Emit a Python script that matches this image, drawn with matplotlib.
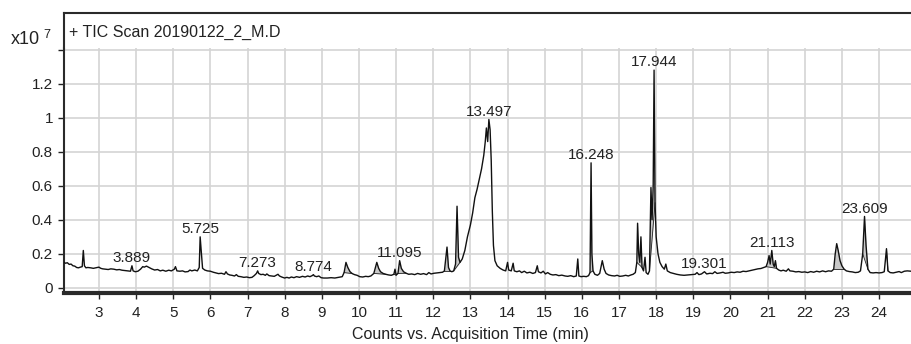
import numpy as np
import matplotlib.pyplot as plt

plt.rcParams['font.family'] = ['Liberation Sans', 'DejaVu Sans']

# TIC trace, counts in units of 1e7
rt = [2.06, 2.10, 2.15, 2.20, 2.25, 2.30, 2.35, 2.40, 2.45, 2.50, 2.55, 2.58, 2.61, 2.65, 2.70, 2.78, 2.85, 2.92, 3.00, 3.05,
      3.10, 3.18, 3.25, 3.32, 3.40, 3.48, 3.55, 3.62, 3.70, 3.78, 3.85, 3.889, 3.92, 3.98, 4.05, 4.12, 4.18, 4.22, 4.28, 4.35,
      4.42, 4.50, 4.58, 4.65, 4.72, 4.80, 4.88, 4.95, 5.03, 5.06, 5.10, 5.18, 5.25, 5.32, 5.40, 5.45, 5.50, 5.58, 5.65, 5.70,
      5.725, 5.76, 5.79, 5.85, 5.92, 6.00, 6.08, 6.15, 6.22, 6.30, 6.38, 6.42, 6.46, 6.52, 6.58, 6.65, 6.70, 6.75, 6.82, 6.90,
      6.98, 7.05, 7.12, 7.18, 7.24, 7.273, 7.30, 7.36, 7.42, 7.48, 7.52, 7.58, 7.65, 7.72, 7.78, 7.82, 7.86, 7.92, 8.00, 8.06,
      8.12, 8.18, 8.25, 8.32, 8.40, 8.48, 8.55, 8.62, 8.68, 8.74, 8.774, 8.80, 8.86, 8.92, 8.98, 9.05, 9.15, 9.25, 9.35, 9.45,
      9.55, 9.60, 9.65, 9.70, 9.76, 9.82, 9.88, 9.95, 10.02, 10.10, 10.18, 10.25, 10.32, 10.40, 10.48, 10.53, 10.58, 10.65, 10.72, 10.80,
      10.87, 10.94, 10.97, 11.00, 11.05, 11.095, 11.14, 11.20, 11.27, 11.34, 11.42, 11.50, 11.58, 11.66, 11.74, 11.82, 11.88, 11.94, 12.02, 12.10,
      12.18, 12.25, 12.30, 12.37, 12.41, 12.45, 12.50, 12.55, 12.60, 12.64, 12.68, 12.72, 12.78, 12.85, 12.92, 13.00, 13.06, 13.12, 13.18, 13.24,
      13.30, 13.36, 13.40, 13.43, 13.465, 13.497, 13.53, 13.56, 13.59, 13.62, 13.66, 13.72, 13.80, 13.88, 13.95, 14.00, 14.03, 14.10, 14.15, 14.18,
      14.25, 14.32, 14.38, 14.45, 14.52, 14.60, 14.68, 14.75, 14.80, 14.83, 14.90, 14.96, 15.02, 15.08, 15.15, 15.22, 15.30, 15.38, 15.46, 15.55,
      15.62, 15.70, 15.78, 15.85, 15.89, 15.92, 15.98, 16.05, 16.12, 16.18, 16.22, 16.248, 16.27, 16.30, 16.35, 16.42, 16.48, 16.55, 16.60, 16.65,
      16.72, 16.80, 16.88, 16.95, 17.02, 17.10, 17.18, 17.25, 17.32, 17.38, 17.44, 17.48, 17.50, 17.53, 17.56, 17.59, 17.62, 17.66, 17.70, 17.73,
      17.78, 17.82, 17.86, 17.89, 17.92, 17.944, 17.97, 18.00, 18.05, 18.10, 18.16, 18.22, 18.26, 18.30, 18.38, 18.46, 18.55, 18.65, 18.75, 18.85,
      18.95, 19.05, 19.10, 19.15, 19.22, 19.301, 19.36, 19.45, 19.52, 19.58, 19.64, 19.72, 19.80, 19.86, 19.94, 20.02, 20.10, 20.18, 20.26, 20.34,
      20.42, 20.50, 20.58, 20.66, 20.74, 20.82, 20.90, 20.96, 21.00, 21.04, 21.07, 21.113, 21.15, 21.18, 21.21, 21.24, 21.30, 21.36, 21.42, 21.50,
      21.56, 21.60, 21.68, 21.76, 21.84, 21.92, 22.00, 22.08, 22.16, 22.24, 22.32, 22.40, 22.48, 22.56, 22.64, 22.72, 22.78, 22.82, 22.86, 22.90,
      22.95, 23.00, 23.06, 23.12, 23.20, 23.28, 23.36, 23.44, 23.50, 23.56, 23.609, 23.65, 23.70, 23.76, 23.84, 23.92, 24.00, 24.08, 24.14, 24.20,
      24.24, 24.30, 24.38, 24.46, 24.54, 24.60, 24.68, 24.76, 24.86]
counts = [0.150, 0.145, 0.148, 0.138, 0.140, 0.130, 0.128, 0.120, 0.118, 0.122, 0.125, 0.220, 0.130, 0.118, 0.120, 0.118, 0.115, 0.118, 0.122, 0.115,
          0.112, 0.110, 0.108, 0.112, 0.110, 0.106, 0.108, 0.104, 0.102, 0.100, 0.098, 0.130, 0.100, 0.095, 0.098, 0.110, 0.125, 0.122, 0.128, 0.120,
          0.112, 0.105, 0.108, 0.100, 0.104, 0.098, 0.104, 0.100, 0.110, 0.125, 0.100, 0.098, 0.100, 0.094, 0.096, 0.105, 0.100, 0.105, 0.100, 0.120,
          0.300, 0.200, 0.115, 0.105, 0.100, 0.098, 0.092, 0.088, 0.084, 0.086, 0.080, 0.095, 0.082, 0.076, 0.074, 0.070, 0.078, 0.068, 0.066, 0.062,
          0.064, 0.060, 0.062, 0.072, 0.085, 0.100, 0.085, 0.078, 0.080, 0.074, 0.082, 0.072, 0.070, 0.068, 0.075, 0.080, 0.070, 0.064, 0.058, 0.062,
          0.058, 0.064, 0.060, 0.066, 0.062, 0.068, 0.064, 0.070, 0.066, 0.072, 0.078, 0.070, 0.066, 0.070, 0.060, 0.058, 0.058, 0.060, 0.058, 0.062,
          0.066, 0.090, 0.150, 0.120, 0.095, 0.084, 0.078, 0.074, 0.066, 0.064, 0.068, 0.066, 0.070, 0.085, 0.150, 0.115, 0.095, 0.085, 0.080, 0.076,
          0.074, 0.080, 0.110, 0.075, 0.085, 0.160, 0.115, 0.095, 0.086, 0.080, 0.082, 0.078, 0.085, 0.080, 0.084, 0.078, 0.090, 0.082, 0.086, 0.088,
          0.090, 0.092, 0.100, 0.240, 0.120, 0.100, 0.095, 0.100, 0.140, 0.480, 0.180, 0.150, 0.170, 0.220, 0.300, 0.370, 0.440, 0.530, 0.580, 0.640,
          0.700, 0.780, 0.860, 0.940, 0.860, 0.990, 0.930, 0.750, 0.450, 0.250, 0.160, 0.130, 0.115, 0.105, 0.100, 0.150, 0.105, 0.100, 0.145, 0.100,
          0.095, 0.100, 0.090, 0.098, 0.088, 0.092, 0.085, 0.090, 0.130, 0.095, 0.088, 0.098, 0.082, 0.090, 0.080, 0.076, 0.078, 0.072, 0.075, 0.070,
          0.068, 0.072, 0.066, 0.070, 0.170, 0.070, 0.066, 0.068, 0.066, 0.072, 0.090, 0.735, 0.200, 0.100, 0.080, 0.074, 0.085, 0.160, 0.110, 0.085,
          0.076, 0.072, 0.070, 0.074, 0.068, 0.070, 0.074, 0.070, 0.076, 0.080, 0.090, 0.150, 0.380, 0.200, 0.150, 0.300, 0.120, 0.100, 0.180, 0.090,
          0.080, 0.100, 0.590, 0.400, 0.600, 1.280, 0.500, 0.300, 0.200, 0.150, 0.125, 0.110, 0.140, 0.100, 0.090, 0.085, 0.080, 0.076, 0.074, 0.076,
          0.078, 0.080, 0.090, 0.078, 0.082, 0.095, 0.082, 0.086, 0.084, 0.095, 0.085, 0.088, 0.092, 0.086, 0.088, 0.092, 0.090, 0.094, 0.092, 0.098,
          0.096, 0.100, 0.104, 0.108, 0.112, 0.114, 0.120, 0.125, 0.150, 0.190, 0.140, 0.220, 0.140, 0.125, 0.160, 0.115, 0.105, 0.100, 0.104, 0.098,
          0.112, 0.100, 0.098, 0.094, 0.096, 0.092, 0.094, 0.090, 0.096, 0.092, 0.098, 0.094, 0.100, 0.095, 0.100, 0.098, 0.110, 0.200, 0.260, 0.220,
          0.160, 0.130, 0.110, 0.100, 0.096, 0.094, 0.090, 0.092, 0.100, 0.200, 0.420, 0.250, 0.110, 0.090, 0.088, 0.090, 0.088, 0.090, 0.095, 0.230,
          0.100, 0.090, 0.088, 0.092, 0.096, 0.090, 0.098, 0.100, 0.098]

# integrated peaks (start, end) shaded grey
peak_windows = [(9.58, 9.85), (10.38, 10.72), (10.94, 11.00), (11.03, 11.30), (12.30, 12.45),
                (12.55, 12.72), (16.22, 16.30), (17.48, 17.62), (17.82, 17.97),
                (20.96, 21.24), (22.78, 23.06), (23.52, 23.72), (24.16, 24.26)]

# labelled retention times
peak_labels = [3.889, 5.725, 7.273, 8.774, 11.095, 13.497, 16.248, 17.944, 19.301, 21.113, 23.609]

x_ticks = list(range(3, 25))
y_ticks = [0, 0.2, 0.4, 0.6, 0.8, 1.0, 1.2, 1.4]
y_ticklabels = ['0', '0.2', '0.4', '0.6', '0.8', '1', '1.2', '']

rt = np.array(rt)
counts = np.array(counts)
ink = '#222222'

fig = plt.figure(figsize=(9.11, 3.44), dpi=100)
ax = fig.add_axes([64 / 911, 51 / 344, 1 - 64 / 911, 245 / 344])
head = fig.add_axes([64 / 911, 296 / 344, 1 - 64 / 911, 35 / 344])

for x0, x1 in peak_windows:
    m = (rt >= x0) & (rt <= x1)
    xs = rt[m]
    base = np.interp(xs, [xs[0], xs[-1]], [counts[m][0], counts[m][-1]])
    ax.fill_between(xs, base, counts[m], color='#c8c8c8', lw=0, zorder=2)
    ax.plot([xs[0], xs[-1]], [base[0], base[-1]], color=ink, lw=0.6, zorder=3)

ax.plot(rt, counts, color='#111111', lw=1.0, zorder=4)

for t in peak_labels:
    ax.annotate(f'{t:.3f}', (t, np.interp(t, rt, counts)), xytext=(0, 0.5),
                textcoords='offset points', ha='center', va='bottom',
                fontsize=11, color=ink, zorder=5)

ax.set_xlim(2.06, 24.86)
ax.set_ylim(-0.03, 1.41)
ax.set_xticks(x_ticks)
ax.set_yticks(y_ticks)
ax.set_yticklabels(y_ticklabels)
ax.grid(True, color='#d4d4d4', lw=1.2, zorder=0)
ax.set_axisbelow(True)
ax.tick_params(axis='both', labelsize=11, colors=ink, length=4.5, width=1)
ax.tick_params(axis='x', pad=5)
ax.tick_params(axis='y', pad=3.5)
for s in ['top', 'right']:
    ax.spines[s].set_visible(False)
ax.spines['bottom'].set_linewidth(3)
ax.spines['bottom'].set_color('#2a2a2a')
ax.spines['left'].set_linewidth(1.5)
ax.spines['left'].set_color('#2a2a2a')

head.set_xticks([])
head.set_yticks([])
for s in ['bottom', 'right']:
    head.spines[s].set_visible(False)
for s in ['top', 'left']:
    head.spines[s].set_linewidth(1.5)
    head.spines[s].set_color('#2a2a2a')
head.text(0.006, 0.45, '+ TIC Scan 20190122_2_M.D', transform=head.transAxes,
          ha='left', va='center', fontsize=11.5, color=ink)

fig.text(470 / 911, 1 - 335 / 344, 'Counts vs. Acquisition Time (min)',
         fontsize=11.5, color=ink, ha='center', va='center')
fig.text(11 / 911, 1 - 44 / 344, 'x10', fontsize=13, color=ink, ha='left', va='baseline')
fig.text(43 / 911, 1 - 38 / 344, '7', fontsize=9, color=ink, ha='left', va='baseline')

fig.savefig('out.png', dpi=100)
